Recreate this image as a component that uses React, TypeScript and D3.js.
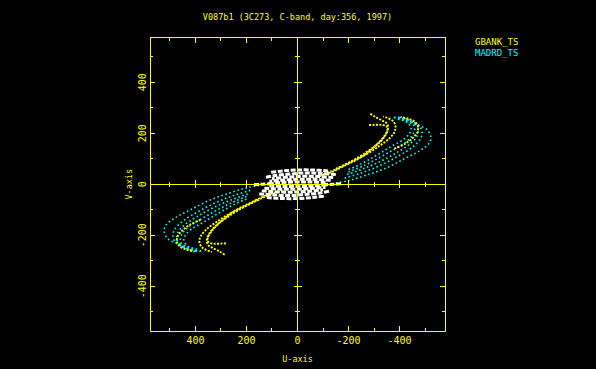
import React, { useRef, useEffect } from "react";
import * as d3 from "d3";

type P = [number, number];

const TITLE = "V087b1 (3C273, C-band, day:356, 1997)";
const STATIONS = ["GBANK_TS", "MADRD_TS"];
const STATION_COLORS = ["#ffff00", "#00ffff"];
const TICKS = [-500, -400, -300, -200, -100, 100, 200, 300, 400, 500];
const LABELS = [-400, -200, 0, 200, 400];

// One half of every track as (u, v); the conjugate half (-u, -v) is drawn too.
const gbankTracks: P[][] = [
    [[60, -22], [81, -30], [120, -42], [148, -54], [185, -73], [226, -93], [254, -109], [293, -140], [324, -167], [344, -191], [355, -219], [351, -238], [332, -250], [304, -265], [285, -277]],
    [[90, -36], [135, -52], [180, -74], [225, -98], [270, -126], [310, -156], [338, -186], [352, -212], [348, -228], [330, -233], [300, -233], [275, -232]],
    [[150, -60], [210, -88], [270, -118], [320, -150], [358, -178], [380, -205], [384, -228], [376, -246], [358, -258], [336, -266]],
    [[380, -140], [420, -158], [452, -182], [470, -205], [472, -228], [460, -245], [435, -257], [405, -264]],
];

const madrdTracks: P[][] = [
    [[150, -5], [198, -14], [265, -34], [343, -62], [421, -101], [480, -132], [515, -160], [523, -182], [511, -211], [488, -226], [453, -238], [413, -250], [383, -257]],
    [[185, -24], [250, -44], [320, -72], [390, -108], [450, -145], [482, -178], [488, -206], [476, -230], [450, -246], [415, -258], [385, -264]],
    [[195, -38], [260, -62], [330, -92], [395, -128], [445, -162], [470, -192], [472, -220], [458, -240], [430, -254], [398, -264]],
    [[200, -48], [262, -74], [320, -104], [380, -138], [430, -170], [455, -200], [458, -226], [440, -245], [412, -257], [380, -264]],
    [[200, -58], [250, -80], [293, -104], [331, -126], [370, -150], [410, -172], [438, -198], [445, -222], [430, -242], [400, -256], [365, -264]],
];

const otherTracks: P[][] = [
    [[-120, 52], [-60, 56], [0, 56], [60, 52], [110, 46]],
    [[-150, 38], [-90, 42], [-30, 44], [30, 40], [90, 34], [130, 26]],
    [[-140, 26], [-80, 30], [-20, 31], [40, 28], [100, 22]],
    [[-130, 16], [-70, 19], [-10, 20], [50, 17], [110, 12]],
    [[-110, 7], [-50, 9], [10, 9], [70, 6], [120, 2]],
    [[100, 2], [140, 0], [175, -2]],
];

const W = 596;
const H = 369;

export default function App() {
    const svgRef = useRef<SVGSVGElement>(null);

    useEffect(() => {
        if (!svgRef.current) return;
        const svg = d3.select(svgRef.current);
        svg.selectAll("*").remove();

        svg.append("rect").attr("width", W).attr("height", H).attr("fill", "#000");

        const left = 150, right = 445, top = 37.5, bottom = 331;
        const x = d3.scaleLinear().domain([578, -578]).range([left, right]);
        const y = d3.scaleLinear().domain([-576, 576]).range([bottom, top]);
        const yellow = "#ffff00";

        const line = d3.line<P>()
            .x(d => x(d[0]))
            .y(d => y(d[1]))
            .curve(d3.curveCatmullRom);

        const g = svg.append("g");

        const drawTracks = (tracks: P[][], color: string, width: number, dash: string) => {
            tracks.forEach(t => {
                const conj = t.map(([u, v]) => [-u, -v] as P);
                [t, conj].forEach(tr => {
                    g.append("path")
                        .attr("d", line(tr))
                        .attr("fill", "none")
                        .attr("stroke", color)
                        .attr("stroke-width", width)
                        .attr("stroke-dasharray", dash);
                });
            });
        };

        drawTracks(madrdTracks, STATION_COLORS[1], 1.6, "1.6 2.6");
        drawTracks(gbankTracks, STATION_COLORS[0], 1.9, "2 1.4");
        drawTracks(otherTracks, "#ffffff", 3, "5 1.5");

        // Frame and zero lines
        const axes = svg.append("g")
            .attr("stroke", yellow)
            .attr("stroke-width", 1)
            .attr("shape-rendering", "crispEdges");

        axes.append("rect")
            .attr("x", left).attr("y", top)
            .attr("width", right - left).attr("height", bottom - top)
            .attr("fill", "none");
        axes.append("line").attr("x1", left).attr("x2", right).attr("y1", y(0)).attr("y2", y(0));
        axes.append("line").attr("x1", x(0)).attr("x2", x(0)).attr("y1", top).attr("y2", bottom);

        TICKS.forEach(t => {
            const major = t % 200 === 0;
            const len = major ? 5 : 3;
            const half = major ? 4 : 2.5;
            // frame ticks, pointing inwards
            axes.append("line").attr("x1", x(t)).attr("x2", x(t)).attr("y1", top).attr("y2", top + len);
            axes.append("line").attr("x1", x(t)).attr("x2", x(t)).attr("y1", bottom).attr("y2", bottom - len);
            axes.append("line").attr("y1", y(t)).attr("y2", y(t)).attr("x1", left).attr("x2", left + len);
            axes.append("line").attr("y1", y(t)).attr("y2", y(t)).attr("x1", right).attr("x2", right - len);
            // ticks across the zero lines
            axes.append("line").attr("x1", x(t)).attr("x2", x(t)).attr("y1", y(0) - half).attr("y2", y(0) + half);
            axes.append("line").attr("y1", y(t)).attr("y2", y(t)).attr("x1", x(0) - half).attr("x2", x(0) + half);
        });

        const text = svg.append("g")
            .attr("font-family", "DejaVu Sans Mono, monospace")
            .attr("fill", yellow);

        LABELS.forEach(t => {
            text.append("text")
                .attr("x", x(t)).attr("y", 343.5)
                .attr("text-anchor", "middle")
                .attr("font-size", 10)
                .text(String(t));
            text.append("text")
                .attr("transform", `translate(145.5,${y(t)}) rotate(-90)`)
                .attr("text-anchor", "middle")
                .attr("font-size", 10)
                .text(String(t));
        });

        text.append("text")
            .attr("x", x(0)).attr("y", 19.5)
            .attr("text-anchor", "middle")
            .attr("font-size", 8.5)
            .text(TITLE);

        text.append("text")
            .attr("x", x(0)).attr("y", 362)
            .attr("text-anchor", "middle")
            .attr("font-size", 8.5)
            .text("U-axis");

        text.append("text")
            .attr("transform", `translate(131.5,${y(0)}) rotate(-90)`)
            .attr("text-anchor", "middle")
            .attr("font-size", 8.5)
            .text("V-axis");

        STATIONS.forEach((s, i) => {
            text.append("text")
                .attr("x", 475).attr("y", 45 + i * 11)
                .attr("font-size", 9)
                .attr("fill", STATION_COLORS[i])
                .text(s);
        });
    }, []);

    return (
        <div style={{ position: "absolute", left: 0, top: 0, width: W, height: H, background: "#000" }}>
            <svg ref={svgRef} width={W} height={H} />
        </div>
    );
}
